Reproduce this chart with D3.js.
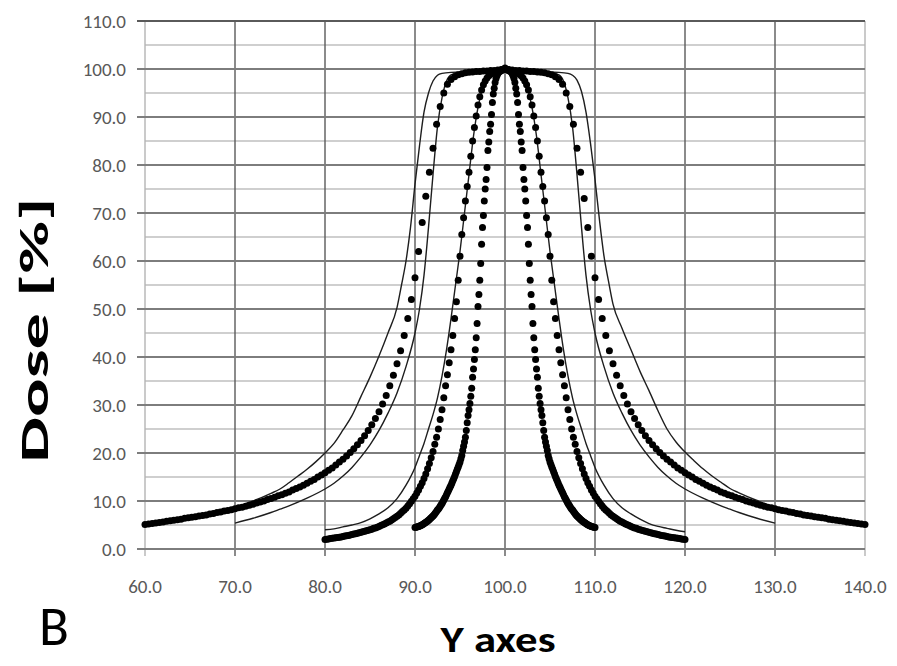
<!DOCTYPE html>
<html>
<head>
<meta charset="utf-8">
<script src="https://cdn.jsdelivr.net/npm/d3@7/dist/d3.min.js"></script>
<style>
body { margin: 0; background: #fff; }
svg { display: block; }
</style>
</head>
<body>
<svg id="chart" width="897" height="666"></svg>
<script>
var X_TICKS = [60, 70, 80, 90, 100, 110, 120, 130, 140];
var Y_TICKS = [0, 10, 20, 30, 40, 50, 60, 70, 80, 90, 100, 110];
var Y_MINOR = [5, 15, 25, 35, 45, 55, 65, 75, 85, 95, 105];

// measured profiles (dots), one value per scan step
var WIDE_START = 60, WIDE_STEP = 0.4;
var wideDose = [
	5.1, 5.2, 5.3, 5.4, 5.5, 5.6, 5.8, 5.9, 6.0, 6.1,
	6.2, 6.4, 6.5, 6.6, 6.7, 6.9, 7.0, 7.1, 7.3, 7.4,
	7.6, 7.7, 7.9, 8.0, 8.2, 8.4, 8.6, 8.7, 8.9, 9.1,
	9.3, 9.6, 9.8, 10.0, 10.3, 10.5, 10.8, 11.1, 11.3, 11.6,
	11.9, 12.3, 12.6, 12.9, 13.3, 13.7, 14.1, 14.5, 15.0, 15.4,
	15.9, 16.4, 16.9, 17.5, 18.1, 18.7, 19.4, 20.1, 20.9, 21.7,
	22.6, 23.6, 24.7, 25.9, 27.2, 28.6, 30.2, 32.0, 34.0, 36.2,
	38.6, 41.3, 44.5, 48.0, 52.0, 56.5, 62.0, 68.0, 73.5, 78.5,
	83.5, 88.5, 92.2, 95.0, 96.8, 97.8, 98.4, 98.8, 99.0, 99.2,
	99.3, 99.4, 99.5, 99.5, 99.6, 99.6, 99.7, 99.7, 99.8, 99.9,
	100.0,
	99.9, 99.8, 99.7, 99.7, 99.6, 99.6, 99.5, 99.5, 99.4, 99.3,
	99.2, 99.0, 98.8, 98.4, 97.8, 96.8, 95.0, 92.2, 88.5, 83.5,
	78.5, 73.0, 67.0, 61.0, 56.5, 52.0, 48.0, 44.5, 41.3, 38.6,
	36.2, 34.0, 32.0, 30.2, 28.6, 27.2, 25.9, 24.7, 23.6, 22.6,
	21.7, 20.9, 20.1, 19.4, 18.7, 18.1, 17.5, 16.9, 16.4, 15.9,
	15.4, 15.0, 14.5, 14.1, 13.7, 13.3, 12.9, 12.6, 12.3, 11.9,
	11.6, 11.3, 11.1, 10.8, 10.5, 10.3, 10.0, 9.8, 9.6, 9.3,
	9.1, 8.9, 8.7, 8.6, 8.4, 8.2, 8.0, 7.9, 7.7, 7.6,
	7.4, 7.3, 7.1, 7.0, 6.9, 6.7, 6.6, 6.5, 6.4, 6.2,
	6.1, 6.0, 5.9, 5.8, 5.6, 5.5, 5.4, 5.3, 5.2, 5.1
];

var MID_START = 80, MID_STEP = 0.2;
var midDose = [
	2.0, 2.05, 2.1, 2.2, 2.25, 2.3, 2.35, 2.4, 2.45, 2.5,
	2.6, 2.7, 2.75, 2.8, 2.9, 3.0, 3.1, 3.2, 3.3, 3.4,
	3.5, 3.6, 3.7, 3.8, 3.9, 4.0, 4.1, 4.3, 4.4, 4.55,
	4.7, 4.9, 5.05, 5.2, 5.4, 5.6, 5.8, 6.05, 6.3, 6.55,
	6.8, 7.1, 7.45, 7.8, 8.15, 8.5, 8.95, 9.45, 9.95, 10.45,
	11.0, 11.65, 12.3, 13.05, 13.8, 14.7, 15.6, 16.7, 17.8, 19.0,
	20.3, 21.8, 23.3, 25.0, 27.0, 29.0, 31.5, 34.0, 36.3, 38.8,
	41.5, 44.5, 48.0, 51.5, 56.0, 61.0, 65.5, 69.0, 72.5, 75.5,
	78.5, 81.8, 85.0, 87.8, 90.2, 92.5, 94.2, 95.6, 96.7, 97.5,
	98.1, 98.6, 98.9, 99.2, 99.4, 99.5, 99.6, 99.7, 99.8, 99.9,
	100.0,
	99.9, 99.8, 99.7, 99.6, 99.5, 99.4, 99.2, 98.9, 98.6, 98.1,
	97.5, 96.7, 95.6, 94.2, 92.5, 90.2, 87.8, 85.0, 81.8, 78.5,
	75.5, 72.5, 69.0, 65.5, 61.0, 56.0, 51.5, 48.0, 44.5, 41.5,
	38.8, 36.3, 34.0, 31.5, 29.0, 27.0, 25.0, 23.3, 21.8, 20.3,
	19.0, 17.8, 16.7, 15.6, 14.7, 13.8, 13.05, 12.3, 11.65, 11.0,
	10.45, 9.95, 9.45, 8.95, 8.5, 8.15, 7.8, 7.45, 7.1, 6.8,
	6.55, 6.3, 6.05, 5.8, 5.6, 5.4, 5.2, 5.05, 4.9, 4.7,
	4.55, 4.4, 4.3, 4.1, 4.0, 3.9, 3.8, 3.7, 3.6, 3.5,
	3.4, 3.3, 3.2, 3.1, 3.0, 2.9, 2.8, 2.75, 2.7, 2.6,
	2.5, 2.45, 2.4, 2.35, 2.3, 2.25, 2.2, 2.1, 2.05, 2.0
];

var NARROW_START = 90, NARROW_STEP = 0.1;
var narrowDose = [
	4.5, 4.55, 4.6, 4.65, 4.7, 4.8, 4.85, 4.95, 5.05, 5.15,
	5.3, 5.4, 5.55, 5.7, 5.85, 6.0, 6.15, 6.35, 6.5, 6.7,
	6.9, 7.1, 7.35, 7.6, 7.85, 8.1, 8.35, 8.6, 8.9, 9.2,
	9.5, 9.85, 10.2, 10.55, 10.9, 11.3, 11.7, 12.1, 12.5, 12.9,
	13.3, 13.75, 14.2, 14.65, 15.1, 15.6, 16.1, 16.6, 17.1, 17.6,
	18.1, 18.8, 19.5, 20.5, 21.4, 22.3, 23.3, 24.7, 26.3, 27.8,
	29.0, 30.3, 31.8, 33.5, 35.8, 37.5, 39.5, 41.5, 44.0, 47.0,
	50.5, 53.0, 56.0, 59.5, 63.5, 67.0, 69.5, 72.5, 75.0, 77.0,
	79.5, 83.0, 84.8, 87.0, 88.5, 90.5, 93.0, 94.8, 96.0, 97.2,
	98.0, 98.6, 99.0, 99.3, 99.5, 99.6, 99.7, 99.8, 99.9, 100.0,
	100.2,
	100.0, 99.9, 99.8, 99.7, 99.6, 99.5, 99.3, 99.0, 98.6, 98.0,
	97.2, 96.0, 94.8, 93.0, 90.5, 88.5, 87.0, 84.8, 83.0, 79.5,
	77.0, 75.0, 72.5, 69.5, 67.0, 63.5, 59.5, 56.0, 53.0, 50.5,
	47.0, 44.0, 41.5, 39.5, 37.5, 35.8, 33.5, 31.8, 30.3, 29.0,
	27.8, 26.3, 24.7, 23.3, 22.3, 21.4, 20.5, 19.5, 18.8, 18.1,
	17.6, 17.1, 16.6, 16.1, 15.6, 15.1, 14.65, 14.2, 13.75, 13.3,
	12.9, 12.5, 12.1, 11.7, 11.3, 10.9, 10.55, 10.2, 9.85, 9.5,
	9.2, 8.9, 8.6, 8.35, 8.1, 7.85, 7.6, 7.35, 7.1, 6.9,
	6.7, 6.5, 6.35, 6.15, 6.0, 5.85, 5.7, 5.55, 5.4, 5.3,
	5.15, 5.05, 4.95, 4.85, 4.8, 4.7, 4.65, 4.6, 4.55, 4.5
];

// calculated profiles (thin lines)
var outerX = [60, 62, 64, 66, 68, 70, 72, 74, 75, 76, 77, 78, 79, 80, 81, 82, 83, 84, 85, 86, 87, 88, 88.5, 89, 89.5, 90, 90.5, 91, 91.5, 92, 92.5, 93, 94, 96, 98, 100,
	102, 104, 106, 107, 107.5, 108, 108.5, 109, 109.5, 110, 110.5, 111, 111.5, 112, 113, 114, 115, 116, 117, 118, 119, 120, 121, 122, 123, 124, 125, 126, 128, 130, 132, 134, 136, 138, 140];
var outerDose = [5.2, 5.7, 6.3, 7.0, 7.8, 8.7, 10.0, 11.6, 12.5, 13.8, 15.2, 16.6, 18.2, 20.0, 22.0, 24.8, 27.8, 31.8, 35.8, 40.2, 45.0, 50.3, 55.0, 60.0, 67.0, 76.0, 84.0, 91.0, 95.0, 97.5, 98.7, 99.1, 99.3, 99.4, 99.5, 99.6,
	99.5, 99.4, 99.3, 99.1, 98.7, 97.7, 95.3, 91.0, 84.5, 77.0, 68.5, 61.0, 55.8, 51.0, 46.0, 41.5, 37.0, 33.0, 28.8, 25.0, 22.3, 20.2, 18.4, 16.7, 15.2, 13.9, 12.6, 11.7, 10.1, 8.7, 7.8, 7.0, 6.3, 5.7, 5.2];

var innerX = [70, 72, 74, 75, 76, 78, 80, 81, 82, 83, 84, 85, 86, 87, 88, 89, 90, 90.5, 91, 91.5, 92, 92.5, 93, 93.5, 94, 95, 97, 100,
	103, 105, 106, 106.5, 107, 107.5, 108, 108.5, 109, 109.5, 110, 111, 112, 113, 114, 115, 116, 117, 118, 119, 120, 122, 124, 125, 126, 128, 130];
var innerDose = [5.4, 6.4, 7.6, 8.3, 9.0, 10.6, 12.5, 13.7, 15.2, 17.0, 19.2, 21.7, 24.7, 28.3, 32.5, 38.0, 45.0, 50.0, 57.0, 67.0, 78.0, 88.0, 94.0, 97.5, 98.8, 99.3, 99.5, 99.7,
	99.5, 99.3, 98.8, 97.5, 94.0, 88.0, 78.0, 67.0, 57.0, 50.0, 45.0, 38.0, 32.5, 28.3, 24.7, 21.7, 19.2, 17.0, 15.2, 13.7, 12.5, 10.6, 9.0, 8.3, 7.6, 6.4, 5.4];

var midLineX = [80, 81, 82, 83, 84, 85, 86, 87, 88, 89, 90, 90.5, 91, 91.5, 92, 92.5, 93, 93.5, 94, 94.5, 95, 95.5, 96, 96.5, 97, 97.5, 98, 99, 100,
	101, 102, 102.5, 103, 103.5, 104, 104.5, 105, 105.5, 106, 106.5, 107, 107.5, 108, 108.5, 109, 109.5, 110, 111, 112, 113, 114, 115, 116, 117, 118, 119, 120];
var midLineDose = [4.0, 4.2, 4.6, 5.0, 5.5, 6.3, 7.3, 8.6, 10.5, 13.3, 17.0, 19.5, 22.0, 25.0, 28.0, 31.5, 36.0, 41.5, 48.0, 55.0, 62.0, 70.0, 78.0, 86.0, 92.0, 96.0, 98.5, 99.6, 100.0,
	99.6, 98.5, 96.0, 92.0, 86.0, 78.0, 70.0, 62.0, 55.0, 48.0, 41.5, 36.0, 31.5, 28.0, 25.0, 22.0, 19.5, 17.0, 13.3, 10.5, 8.6, 7.3, 6.2, 5.3, 4.7, 4.3, 3.9, 3.6];

var svg = d3.select("#chart");
var x = d3.scaleLinear().domain([60, 140]).range([145, 865]);
var y = d3.scaleLinear().domain([0, 110]).range([549, 21]);
var fmt = d3.format(".1f");
var FONT = "Carlito, Lato, 'Liberation Sans', sans-serif";

// grid
var grid = svg.append("g").attr("class", "grid");
grid.selectAll("line.minor").data(Y_MINOR).enter().append("line")
	.attr("class", "minor")
	.attr("x1", x(60)).attr("x2", x(140))
	.attr("y1", function(d) { return y(d); }).attr("y2", function(d) { return y(d); })
	.style("stroke", "#cfcfcf").style("stroke-width", 2);

grid.selectAll("line.vert").data(X_TICKS).enter().append("line")
	.attr("class", "vert")
	.attr("x1", function(d) { return x(d); }).attr("x2", function(d) { return x(d); })
	.attr("y1", y(110)).attr("y2", y(0) + 7)
	.style("stroke", function(d) { return (d == 60 || d == 140) ? "#b4b4b4" : "#5a5a5a"; })
	.style("stroke-width", 1.4);

grid.selectAll("line.major").data(Y_TICKS).enter().append("line")
	.attr("class", "major")
	.attr("x1", x(60) - 8).attr("x2", x(140))
	.attr("y1", function(d) { return y(d); }).attr("y2", function(d) { return y(d); })
	.style("stroke", function(d) { return d == 110 ? "#5a5a5a" : "#7d7d7d"; })
	.style("stroke-width", function(d) { return d == 110 ? 2 : 1.8; });

// tick labels
svg.append("g").selectAll("text").data(Y_TICKS).enter().append("text")
	.attr("x", 126)
	.attr("y", function(d) { return y(d) + 7; })
	.attr("text-anchor", "end")
	.style("font-family", FONT).style("font-size", "19px").style("fill", "#595959")
	.text(function(d) { return fmt(d); });

svg.append("g").selectAll("text").data(X_TICKS).enter().append("text")
	.attr("x", function(d) { return x(d); })
	.attr("y", 593)
	.attr("text-anchor", "middle")
	.style("font-family", FONT).style("font-size", "19px").style("fill", "#595959")
	.text(function(d) { return fmt(d); });

// thin calculated curves
var line = d3.line()
	.x(function(d) { return x(d[0]); })
	.y(function(d) { return y(d[1]); })
	.curve(d3.curveMonotoneX);

function pairs(xs, ys) { return xs.map(function(v, i) { return [v, ys[i]]; }); }

var thin = [pairs(outerX, outerDose), pairs(innerX, innerDose), pairs(midLineX, midLineDose)];
svg.append("g").selectAll("path").data(thin).enter().append("path")
	.attr("d", line)
	.style("fill", "none").style("stroke", "#1e1e1e").style("stroke-width", 1.4);

// measured dots
function samples(start, step, values)
{
	return values.map(function(v, i) { return [start + i * step, v]; });
}

var measured = [
	samples(WIDE_START, WIDE_STEP, wideDose),
	samples(MID_START, MID_STEP, midDose),
	samples(NARROW_START, NARROW_STEP, narrowDose)
];

svg.append("g").selectAll("g").data(measured).enter().append("g")
	.selectAll("circle").data(function(d) { return d; }).enter().append("circle")
	.attr("cx", function(d) { return x(d[0]); })
	.attr("cy", function(d) { return y(d[1]); })
	.attr("r", 3.5)
	.style("fill", "#000");

// titles
svg.append("text")
	.attr("transform", "translate(48,330) rotate(-90)")
	.attr("text-anchor", "middle")
	.attr("textLength", 265).attr("lengthAdjust", "spacingAndGlyphs")
	.style("font-family", FONT).style("font-weight", "bold").style("font-size", "41px")
	.text("Dose [%]");

svg.append("text")
	.attr("x", 498).attr("y", 652)
	.attr("text-anchor", "middle")
	.attr("textLength", 115).attr("lengthAdjust", "spacingAndGlyphs")
	.style("font-family", FONT).style("font-weight", "bold").style("font-size", "37px")
	.text("Y axes");

svg.append("text")
	.attr("x", 39).attr("y", 645)
	.style("font-family", FONT).style("font-size", "55px")
	.text("B");
</script>
</body>
</html>
